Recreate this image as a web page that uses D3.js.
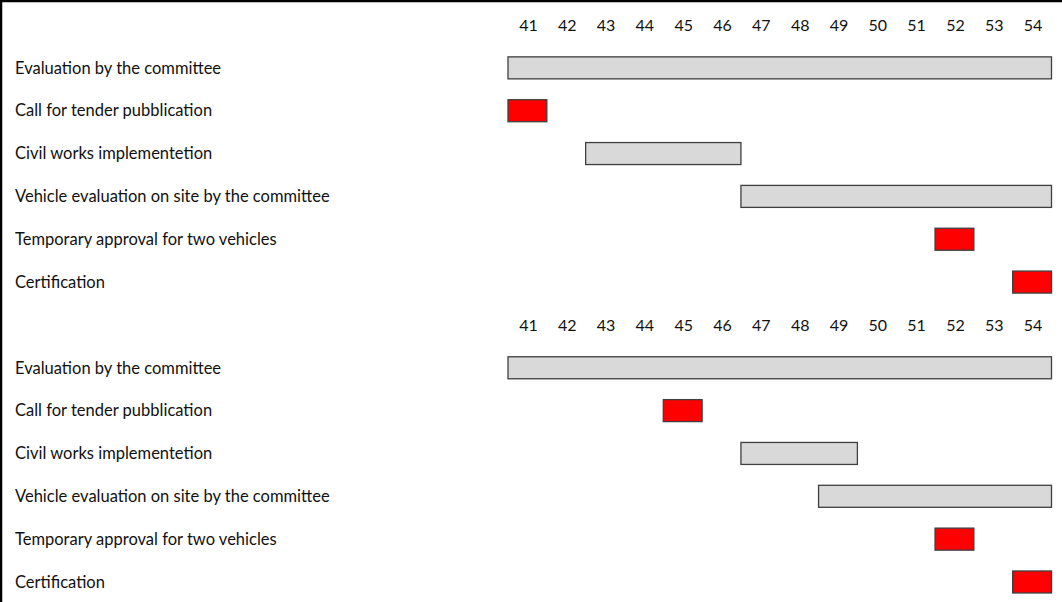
<!DOCTYPE html>
<html>
<head>
<meta charset="utf-8">
<script src="https://cdn.jsdelivr.net/npm/d3@7"></script>
<style>
  body { margin: 0; background: #fff; }
  svg { display: block; }
  text { font-family: Lato, "Open Sans", sans-serif; fill: #111; }
</style>
</head>
<body>
<div id="chart"></div>
<script>
var width = 1062, height = 602;

var weeks = [41, 42, 43, 44, 45, 46, 47, 48, 49, 50, 51, 52, 53, 54];
var tasks = ["Evaluation by the committee", "Call for tender pubblication", "Civil works implementetion",
  "Vehicle evaluation on site by the committee", "Temporary approval for two vehicles", "Certification"];
// milestone rows are drawn red
var milestone = [false, true, false, false, true, true];
// first plan: start / end week
var start1 = [41, 41, 43, 47, 52, 54];
var end1 = [54, 41, 46, 54, 52, 54];
// second plan
var start2 = [41, 45, 47, 49, 52, 54];
var end2 = [54, 45, 49, 54, 52, 54];

var plans = [
  {start: start1, end: end1},
  {start: start2, end: end2}
];

// one header row + tasks per plan
var rows = [];
plans.forEach(function(p, pi){
  rows.push({key: "h" + pi, header: true});
  tasks.forEach(function(t, i){
    rows.push({key: pi + "-" + i, name: t, start: p.start[i], end: p.end[i], red: milestone[i]});
  });
});

var x = d3.scaleBand().domain(weeks).range([508, 1051.5]);
var y = d3.scaleBand().domain(rows.map(function(r){ return r.key; })).range([3.6, 603.4]);

var svg = d3.select("#chart").append("svg")
  .attr("width", width)
  .attr("height", height);

svg.append("rect").attr("width", width).attr("height", height).attr("fill", "#fff");

var barH = 22;

rows.forEach(function(r){
  var cy = y(r.key) + y.bandwidth() / 2;
  if(r.header){
    svg.append("g").selectAll("text")
      .data(weeks).enter().append("text")
      .attr("x", function(d){ return x(d) + x.bandwidth() / 2 + 1; })
      .attr("y", cy)
      .attr("dy", "0.35em")
      .attr("text-anchor", "middle")
      .style("font-size", "16px")
      .text(function(d){ return d; });
    return;
  }
  svg.append("text")
    .attr("x", 15)
    .attr("y", cy)
    .attr("dy", "0.35em")
    .style("font-size", "16.5px")
    .text(r.name);
  svg.append("rect")
    .attr("x", x(r.start))
    .attr("y", cy - barH / 2)
    .attr("width", x(r.end) + x.bandwidth() - x(r.start))
    .attr("height", barH)
    .attr("fill", r.red ? "#ff0000" : "#d9d9d9")
    .attr("stroke", "#3f3f3f")
    .attr("stroke-width", 1.3);
});

// frame on top and left
svg.append("path")
  .attr("d", "M1," + height + "V1H" + width)
  .attr("fill", "none")
  .attr("stroke", "#000")
  .attr("stroke-width", 2.5);
</script>
</body>
</html>
